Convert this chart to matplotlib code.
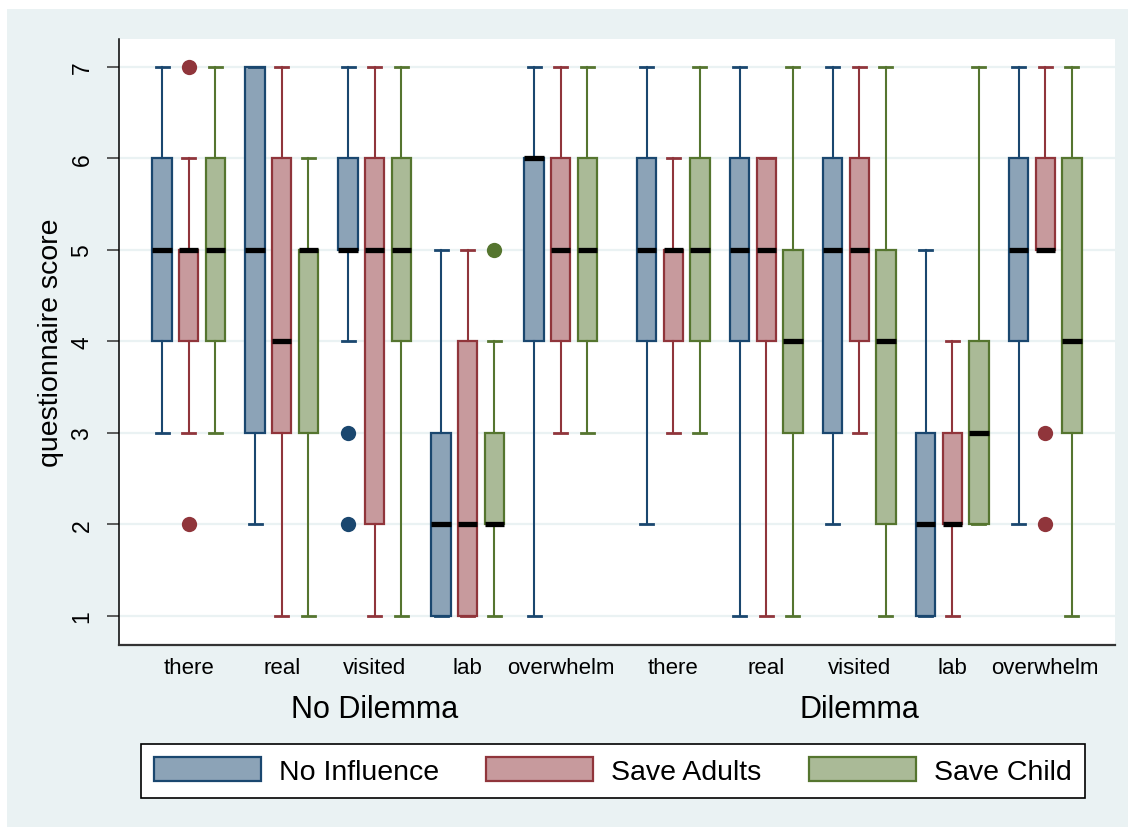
import matplotlib
matplotlib.use("Agg")
import matplotlib.pyplot as plt
from matplotlib.patches import Patch, Rectangle
from matplotlib.transforms import blended_transform_factory

plt.rcParams["font.family"] = ["Liberation Sans", "DejaVu Sans"]

# Questionnaire items and experimental grouping
questions = ["there", "real", "visited", "lab", "overwhelm"]
groups = ["No Dilemma", "Dilemma"]
conditions = ["No Influence", "Save Adults", "Save Child"]

# Box statistics per condition; order: No Dilemma items, then Dilemma items
ni_whislo = [3, 2, 4, 1, 1, 2, 1, 2, 1, 2]
ni_q1 = [4, 3, 5, 1, 4, 4, 4, 3, 1, 4]
ni_med = [5, 5, 5, 2, 6, 5, 5, 5, 2, 5]
ni_q3 = [6, 7, 6, 3, 6, 6, 6, 6, 3, 6]
ni_whishi = [7, 7, 7, 5, 7, 7, 7, 7, 5, 7]
ni_outliers = {2: [3, 2]}

sa_whislo = [3, 1, 1, 1, 3, 3, 1, 3, 1, 5]
sa_q1 = [4, 3, 2, 1, 4, 4, 4, 4, 2, 5]
sa_med = [5, 4, 5, 2, 5, 5, 5, 5, 2, 5]
sa_q3 = [5, 6, 6, 4, 6, 5, 6, 6, 3, 6]
sa_whishi = [6, 7, 7, 5, 7, 6, 6, 7, 4, 7]
sa_outliers = {0: [7, 2], 9: [3, 2]}

sc_whislo = [3, 1, 1, 1, 3, 3, 1, 1, 2, 1]
sc_q1 = [4, 3, 4, 2, 4, 4, 3, 2, 2, 3]
sc_med = [5, 5, 5, 2, 5, 5, 4, 4, 3, 4]
sc_q3 = [6, 5, 6, 3, 6, 6, 5, 5, 4, 6]
sc_whishi = [7, 6, 7, 4, 7, 7, 7, 7, 7, 7]
sc_outliers = {3: [5]}

y_ticks = [1, 2, 3, 4, 5, 6, 7]

series = [
    (ni_whislo, ni_q1, ni_med, ni_q3, ni_whishi, ni_outliers),
    (sa_whislo, sa_q1, sa_med, sa_q3, sa_whishi, sa_outliers),
    (sc_whislo, sc_q1, sc_med, sc_q3, sc_whishi, sc_outliers),
]
line_colors = ["#1A476F", "#90353B", "#55752F"]
fill_colors = ["#8CA3B7", "#C79A9D", "#AABA97"]
bg_color = "#EAF2F3"

# Layout in units of one box step
cat_step = 3.49
group_step = 4 * cat_step + 4.225
box_width = 0.724
cap_width = 0.49

fig = plt.figure(figsize=(11.28, 8.28), dpi=100)
fig.patch.set_facecolor("white")
fig.add_artist(Rectangle((7 / 1128, 0), 1, 1 - 10 / 828,
                         transform=fig.transFigure, facecolor=bg_color,
                         edgecolor="none", zorder=-10))

ax = fig.add_axes([119 / 1128, 1 - 645.7 / 828, 996 / 1128, 605.7 / 828])
ax.set_facecolor("white")

centers = []
for g in range(len(groups)):
    for j in range(len(questions)):
        centers.append(g * group_step + j * cat_step)

for k, (lo, q1, med, q3, hi, outl) in enumerate(series):
    stats = []
    for i in range(len(centers)):
        stats.append({
            "whislo": lo[i], "q1": q1[i], "med": med[i],
            "q3": q3[i], "whishi": hi[i],
            "fliers": outl.get(i, []),
        })
    pos = [c + (k - 1) for c in centers]
    ax.bxp(stats, positions=pos, widths=box_width, capwidths=cap_width,
           patch_artist=True, manage_ticks=False,
           boxprops=dict(facecolor=fill_colors[k], edgecolor=line_colors[k],
                         linewidth=1.6),
           whiskerprops=dict(color=line_colors[k], linewidth=1.5),
           capprops=dict(color=line_colors[k], linewidth=2.0),
           medianprops=dict(color="black", linewidth=3.8, solid_capstyle="butt"),
           flierprops=dict(marker="o", markerfacecolor=line_colors[k],
                           markeredgecolor="none", markersize=11),
           zorder=3)

ax.set_xlim(centers[0] - 2.615, centers[-1] + 2.615)
ax.set_ylim(0.686, 7.306)

ax.set_yticks(y_ticks)
ax.set_yticklabels([str(t) for t in y_ticks])
ax.tick_params(axis="y", labelrotation=90, length=8.4, width=1.1,
               color="#333333", labelsize=16.5, pad=10)
for lab in ax.get_yticklabels():
    lab.set_va("center")
    lab.set_ha("right")
ax.yaxis.grid(True, color=bg_color, linewidth=1.6, zorder=0)
ax.set_axisbelow(True)

ax.set_xticks(centers)
ax.set_xticklabels(questions * len(groups))
ax.tick_params(axis="x", length=0, labelsize=16, pad=9)

for side in ["top", "right"]:
    ax.spines[side].set_visible(False)
ax.spines["left"].set_linewidth(1.1)
ax.spines["left"].set_color("black")
ax.spines["bottom"].set_linewidth(1.6)
ax.spines["bottom"].set_color("#333333")

ax.set_ylabel("questionnaire score", fontsize=20.5)
ax.yaxis.set_label_coords((64 - 119) / 996, 0.5)

trans = blended_transform_factory(ax.transData, ax.transAxes)
for g, name in enumerate(groups):
    ax.text(centers[g * len(questions) + 2], (645.7 - 710) / 605.7, name,
            transform=trans, ha="center", va="center", fontsize=22)

handles = [Patch(facecolor=fill_colors[k], edgecolor=line_colors[k],
                 linewidth=1.6, label=conditions[k]) for k in range(3)]
leg = fig.legend(handles=handles, ncol=3, loc="upper left",
                 bbox_to_anchor=(141 / 1128, 1 - 745 / 828),
                 borderaxespad=0, fontsize=20.5, frameon=True, fancybox=False,
                 edgecolor="black", framealpha=1, handlelength=3.75,
                 handleheight=0.95, handletextpad=0.63, columnspacing=1.68,
                 borderpad=0.45)
leg.get_frame().set_linewidth(1.2)

fig.savefig("out.png", dpi=100, facecolor=fig.get_facecolor())
